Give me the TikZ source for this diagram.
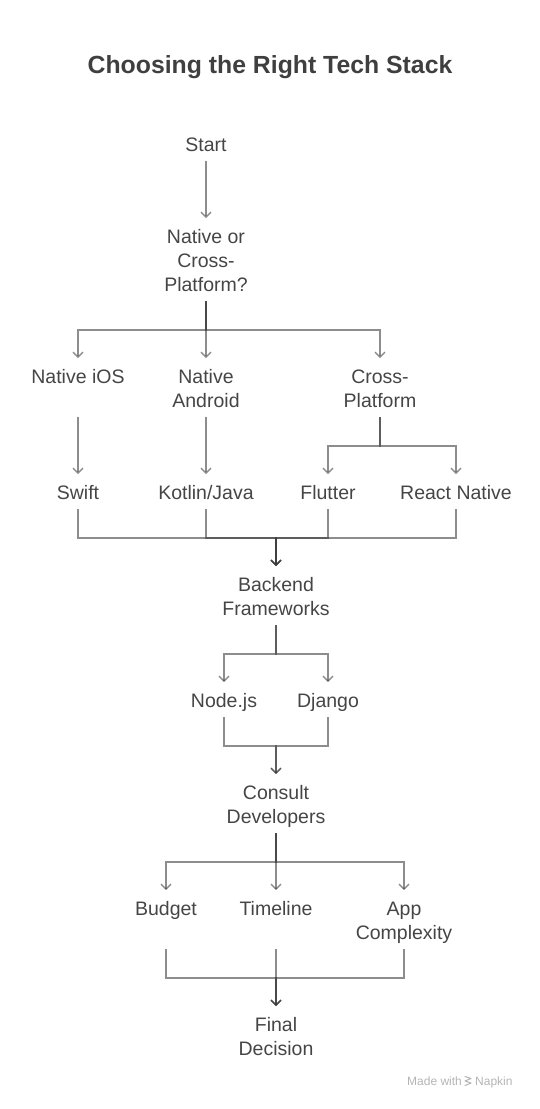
\documentclass[tikz,border=0pt]{standalone}
\usepackage{fontspec}
\setmainfont{Liberation Sans}
\usetikzlibrary{arrows.meta}
\definecolor{txt}{HTML}{454545}
\definecolor{ttl}{HTML}{3F3F3F}
\definecolor{ln}{HTML}{3A3A3A}
\definecolor{wm}{HTML}{B4B4B4}
\newcommand{\sx}{\rule[-4.5pt]{0pt}{24pt}}
\begin{document}
\begin{tikzpicture}[x=1pt,y=-1pt,
  lbl/.style={anchor=north, align=center, inner sep=0pt, outer sep=5.5pt, text=txt,
              font=\fontsize{19.5}{24}\selectfont},
  conn/.style={draw=ln, opacity=0.58, line width=1.25pt,
               -{Straight Barb[length=5pt,width=10pt]}},
]
\useasboundingbox (0,0) rectangle (540,1109);

% title
\node[anchor=base, text=ttl, font=\fontsize{24.8}{30}\selectfont\bfseries] (title) at (270,73.5) {Choosing the Right Tech Stack};

% nodes
\node[lbl] (start) at (206,126) {\sx Start};
\node[lbl] (q)     at (206,218) {\sx Native or\\\sx Cross-\\\sx Platform?};
\node[lbl] (ios)   at (78,358)  {\sx Native iOS\\\sx};
\node[lbl] (and)   at (206,358) {\sx Native\\\sx Android};
\node[lbl] (cross) at (380,358) {\sx Cross-\\\sx Platform};
\node[lbl] (swift) at (78,474)  {\sx Swift};
\node[lbl] (kot)   at (206,474) {\sx Kotlin/Java};
\node[lbl] (flut)  at (328,474) {\sx Flutter};
\node[lbl] (rn)    at (456,474) {\sx React Native};
\node[lbl] (be)    at (276,566) {\sx Backend\\\sx Frameworks};
\node[lbl] (nd)    at (224,682) {\sx Node.js};
\node[lbl] (dj)    at (328,682) {\sx Django};
\node[lbl] (cd)    at (276,774) {\sx Consult\\\sx Developers};
\node[lbl] (bud)   at (166,890) {\sx Budget\\\sx};
\node[lbl] (tl)    at (276,890) {\sx Timeline\\\sx};
\node[lbl] (app)   at (404,890) {\sx App\\\sx Complexity};
\node[lbl] (fin)   at (276,1006) {\sx Final\\\sx Decision};

% junctions
\coordinate (j1) at (206,330);
\coordinate (j3) at (380,446);
\coordinate (j2) at (276,538);
\coordinate (j4) at (276,654);
\coordinate (j5) at (276,746);
\coordinate (j6) at (276,862);
\coordinate (j7) at (276,978);

% connectors
\draw[conn] (start) -- (q);
\draw[conn] (q) -- (j1) -| (ios);
\draw[conn] (q) -- (and);
\draw[conn] (q) -- (j1) -| (cross);
\draw[conn] (ios) -- (swift);
\draw[conn] (and) -- (kot);
\draw[conn] (cross) -- (j3) -| (flut);
\draw[conn] (cross) -- (j3) -| (rn);
\draw[conn] (swift) |- (j2) -- (be);
\draw[conn] (kot) |- (j2) -- (be);
\draw[conn] (flut) |- (j2) -- (be);
\draw[conn] (rn) |- (j2) -- (be);
\draw[conn] (be) -- (j4) -| (nd);
\draw[conn] (be) -- (j4) -| (dj);
\draw[conn] (nd) |- (j5) -- (cd);
\draw[conn] (dj) |- (j5) -- (cd);
\draw[conn] (cd) -- (j6) -| (bud);
\draw[conn] (cd) -- (tl);
\draw[conn] (cd) -- (j6) -| (app);
\draw[conn] (bud) |- (j7) -- (fin);
\draw[conn] (tl) -- (fin);
\draw[conn] (app) |- (j7) -- (fin);

% watermark
\node[anchor=base west, inner sep=0pt, text=wm, font=\fontsize{12}{14}\selectfont] (made) at (407,1085) {Made with};
\node[anchor=base west, inner sep=0pt, text=wm, font=\fontsize{12}{14}\selectfont] (napkin) at (475,1085) {Napkin};
\draw[wm, line width=1pt, line cap=round, line join=round]
  (465,1076.5) -- (471,1078.5) -- (465,1081) -- (471,1083) -- (465,1085.5);
\end{tikzpicture}
\end{document}
